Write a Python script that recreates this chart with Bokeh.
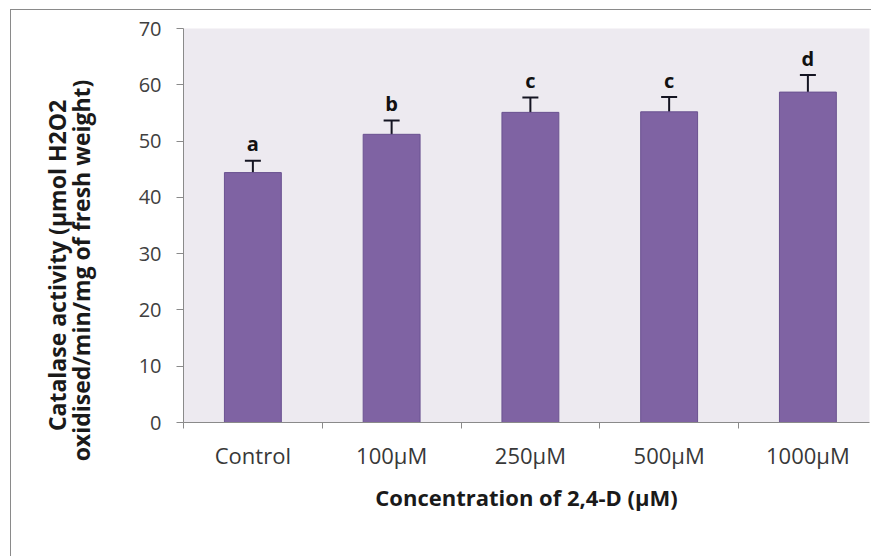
import numpy as np
from bokeh.plotting import figure
from bokeh.layouts import row
from bokeh.models import Range1d, FixedTicker, ColumnDataSource, Whisker, TeeHead
from bokeh.core.properties import value
from bokeh.embed import file_html
from bokeh.resources import INLINE

# ---- data ----
categories = ["Control", "100µM", "250µM", "500µM", "1000µM"]
catalase = [44.4, 51.2, 55.1, 55.2, 58.7]
errors = [2.1, 2.45, 2.65, 2.65, 3.05]
letters = ["a", "b", "c", "c", "d"]
y_ticks = [0, 10, 20, 30, 40, 50, 60, 70]
y_title_lines = ["Catalase activity (µmol H2O2", "oxidised/min/mg of fresh weight)"]
x_title = "Concentration of 2,4-D (µM)"

FONT = "Open Sans"
AXIS_GREY = "#8a8a8a"
H = 546

pos = np.arange(len(categories)) + 0.5
vals = np.array(catalase)
errs = np.array(errors)
src = ColumnDataSource(dict(x=pos, top=vals, lower=vals - errs, upper=vals + errs,
                            ltr_y=vals + errs + 3.0, letter=letters))

# ---- left strip holding the two-line y-axis title ----
WL = 100
t = figure(width=WL, height=H, x_range=Range1d(0, WL), y_range=Range1d(0, H),
           output_backend="svg", toolbar_location=None,
           x_axis_location=None, y_axis_location=None,
           min_border=0, min_border_left=0, min_border_right=0,
           min_border_top=0, min_border_bottom=0,
           outline_line_color=None, background_fill_color="white",
           border_fill_color="white", frame_align=False)
t.grid.visible = False
t.text(x=[45, 69], y=[291, 286], text=y_title_lines, angle=np.pi / 2,
       text_align="center", text_baseline="middle",
       text_font=value(FONT), text_font_style="bold", text_font_size="23px",
       text_color="#1a1a1a")

# ---- main chart ----
p = figure(width=760, height=H,
           x_range=Range1d(0, 4.944), y_range=Range1d(0, 70),
           output_backend="svg", toolbar_location=None,
           min_border_left=72, min_border_right=2, min_border_top=18, min_border_bottom=134,
           background_fill_color="#EDEAF0", border_fill_color="white",
           outline_line_color=None, frame_align=False)
p.grid.visible = False

p.vbar(x="x", top="top", width=0.41, bottom=0, source=src,
       fill_color="#7F63A3", line_color="#6A5290", line_width=1)

wh = Whisker(base="x", upper="upper", lower="lower", source=src,
             line_color="#151522", line_width=2,
             upper_head=TeeHead(size=16, line_width=2, line_color="#151522"),
             lower_head=TeeHead(size=16, line_width=2, line_color="#151522"))
p.add_layout(wh)

p.text(x="x", y="ltr_y", text="letter", source=src,
       text_font=value(FONT), text_font_style="bold", text_font_size="20px",
       text_align="center", text_baseline="alphabetic",
       text_color="#111111")

# x axis: labels at category centres, ticks at category boundaries
xa = p.xaxis[0]
xa.ticker = FixedTicker(ticks=list(pos), minor_ticks=list(range(len(categories))))
xa.major_label_overrides = {float(x): c for x, c in zip(pos, categories)}
xa.major_tick_out = 0
xa.major_tick_in = 0
xa.minor_tick_out = 6
xa.minor_tick_in = 0
xa.minor_tick_line_color = AXIS_GREY
xa.axis_line_color = AXIS_GREY
xa.major_label_text_font = FONT
xa.major_label_text_font_size = "22px"
xa.major_label_text_color = "#383838"
xa.major_label_standoff = 11
xa.axis_label = x_title
xa.axis_label_text_font = FONT
xa.axis_label_text_font_style = "bold"
xa.axis_label_text_font_size = "22px"
xa.axis_label_text_color = "#1a1a1a"
xa.axis_label_standoff = 9

ya = p.yaxis[0]
ya.ticker = FixedTicker(ticks=y_ticks)
ya.major_tick_out = 7
ya.major_tick_in = 0
ya.minor_tick_out = 0
ya.minor_tick_in = 0
ya.major_tick_line_color = AXIS_GREY
ya.axis_line_color = AXIS_GREY
ya.major_label_text_font = FONT
ya.major_label_text_font_size = "20px"
ya.major_label_text_color = "#404040"
ya.major_label_standoff = 15

layout = row(t, p, spacing=0,
             styles={"border-left": "1px solid #8a8a8a", "border-top": "1px solid #8a8a8a",
                     "margin-left": "10px", "margin-top": "9px"})

open("out.html", "w").write(file_html(layout, INLINE))
